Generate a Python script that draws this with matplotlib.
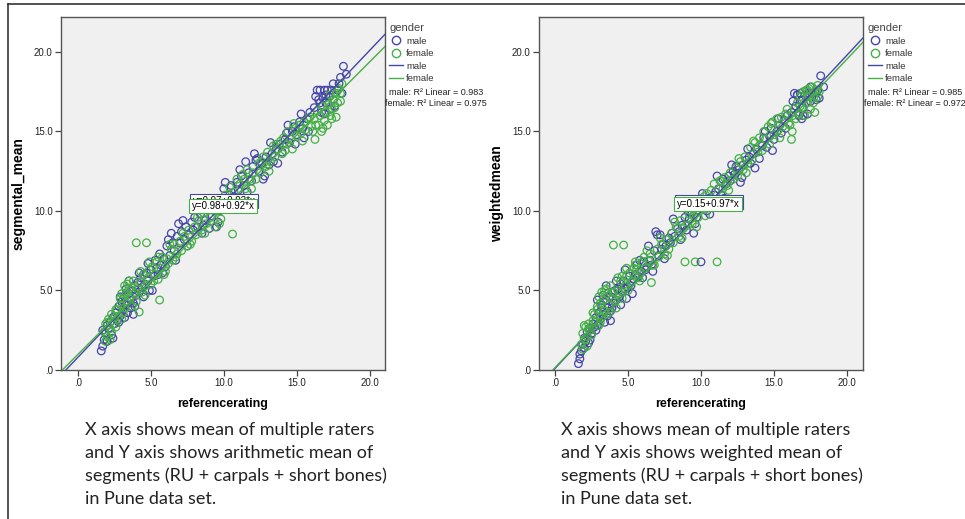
import matplotlib
matplotlib.use("Agg")
import matplotlib.pyplot as plt
from matplotlib.lines import Line2D
import numpy as np

# reference rating (x) and the two segment means (y)
male_ref = [1.6, 1.7, 1.8, 1.9, 2.0, 2.1, 2.2, 2.3, 2.4, 1.7, 2.0, 2.5,
            2.6, 2.7, 2.8, 2.9, 3.0, 3.1, 3.2, 3.3, 3.4, 3.5, 3.6, 3.7, 3.8, 3.9, 4.0, 3.3, 3.6, 2.8, 3.9,
            4.1, 4.2, 4.3, 4.4, 4.5, 4.6, 4.7, 4.8, 4.9, 5.0, 5.2, 5.4, 5.5, 5.7, 5.9, 5.6, 6.0,
            6.1, 6.2, 6.3, 6.5, 6.6, 6.8, 6.9, 7.0, 7.1, 7.3, 7.4, 7.6, 7.8, 7.9, 8.0,
            8.2, 8.4, 8.5, 8.7, 8.9, 9.0, 9.2, 9.4, 9.6, 9.7, 9.9, 10.0,
            10.2, 10.4, 10.5, 10.7, 10.9, 11.0, 11.2, 11.4, 11.5, 11.7, 11.9, 12.0,
            12.2, 12.3, 12.4, 12.6, 12.8, 12.9, 13.1, 13.3, 13.4, 13.6, 13.8, 14.0,
            14.2, 14.3, 14.5, 14.7, 14.8, 15.0, 15.2, 15.4, 15.5, 15.7, 15.9,
            16.2, 16.4, 16.5, 16.6, 16.7, 16.8, 16.9, 17.0, 17.1, 17.2, 17.3, 17.4, 17.5, 17.6,
            17.8, 17.9, 18.0, 18.2, 18.4, 16.6, 17.0,
            2.4, 2.9, 3.2, 3.5, 3.8, 4.2, 4.5, 4.8, 5.1, 5.3, 5.8, 6.4, 6.7, 7.2, 7.5, 8.1, 8.6,
            9.1, 9.5, 10.1, 10.6, 11.1, 11.6, 12.1, 12.7, 13.2, 13.7, 14.4, 14.9, 15.3, 15.8,
            16.3, 16.9, 17.5, 18.1]
male_seg = [1.2, 1.5, 1.9, 2.3, 2.8, 2.6, 3.0, 2.2, 3.3, 2.5, 1.8, 2.9,
            3.6, 3.1, 4.0, 3.4, 4.3, 3.8, 4.6, 4.1, 3.6, 4.8, 4.4, 5.0, 4.2, 5.3, 4.7, 5.1, 3.9, 3.0, 4.0,
            5.5, 4.9, 5.8, 5.2, 6.0, 5.4, 6.1, 5.6, 5.0, 6.3, 5.9, 6.4, 6.0, 6.6, 7.0, 7.3, 6.5,
            7.8, 8.2, 7.2, 8.0, 7.5, 8.4, 9.2, 8.0, 8.7, 8.2, 9.0, 8.5, 9.3, 8.8, 9.6,
            9.0, 9.8, 8.6, 9.4, 10.1, 8.9, 9.7, 10.4, 9.3, 10.0, 10.8, 11.4,
            10.5, 11.0, 11.6, 10.9, 11.8, 11.3, 12.2, 11.6, 13.1, 12.4, 11.9, 12.8,
            13.2, 13.3, 12.5, 13.0, 12.2, 13.4, 12.9, 13.6, 13.1, 13.9, 14.2, 13.7,
            14.5, 14.9, 14.3, 15.0, 15.3, 14.8, 15.6, 15.2, 14.6, 15.8, 16.2,
            16.5, 17.6, 17.0, 17.6, 16.2, 17.1, 17.6, 16.8, 17.6, 17.2, 16.4, 17.6, 17.0, 16.6,
            17.6, 18.0, 18.4, 19.1, 18.6, 16.8, 17.3,
            2.0, 4.6, 3.3, 5.6, 3.5, 6.1, 4.6, 6.7, 5.0, 6.9, 6.1, 8.6, 6.9, 9.4, 7.8, 10.2, 9.1,
            10.6, 9.0, 11.8, 10.4, 12.6, 11.2, 13.6, 12.0, 14.3, 13.0, 15.4, 14.2, 16.1, 15.0,
            17.2, 16.1, 18.0, 17.4]
male_wt = [0.4, 0.7, 1.2, 1.6, 2.0, 1.8, 2.4, 1.7, 2.6, 1.0, 1.4, 2.3,
           2.9, 2.7, 3.3, 2.8, 3.6, 3.2, 4.1, 3.5, 3.0, 4.4, 3.9, 4.6, 3.7, 4.9, 4.2, 4.7, 3.4, 2.5, 3.9,
           5.0, 4.4, 5.1, 4.6, 5.4, 4.9, 5.6, 5.1, 4.5, 5.2, 5.3, 5.7, 6.0, 5.9, 6.2, 6.6, 5.8,
           6.8, 6.3, 6.5, 6.9, 6.6, 7.5, 8.7, 8.5, 7.2, 7.6, 7.9, 7.8, 8.3, 8.0, 8.6,
           8.4, 8.9, 8.7, 9.1, 9.6, 8.8, 9.5, 9.9, 9.2, 9.6, 10.2, 6.8,
           10.4, 10.0, 10.8, 10.5, 11.0, 11.2, 11.4, 11.0, 12.0, 11.7, 12.2, 11.9,
           12.5, 12.3, 12.8, 12.6, 12.1, 12.9, 13.2, 13.4, 13.0, 13.6, 13.9, 13.3,
           14.1, 14.6, 14.0, 14.7, 15.2, 14.5, 15.0, 15.4, 14.9, 15.7, 16.0,
           16.2, 17.4, 16.6, 17.3, 16.0, 17.4, 17.0, 16.5, 17.3, 16.8, 16.1, 17.4, 16.9, 17.4,
           17.5, 17.0, 17.6, 18.5, 17.8, 17.3, 16.0,
           1.9, 4.4, 3.9, 5.3, 3.1, 5.6, 4.1, 6.3, 5.9, 4.8, 6.9, 7.8, 6.2, 8.5, 7.0, 9.5, 8.2,
           10.0, 8.6, 11.1, 9.8, 12.2, 10.8, 12.9, 11.8, 13.9, 12.7, 15.0, 13.8, 15.8, 15.2,
           16.9, 15.8, 17.8, 17.1]

female_ref = [1.8, 1.9, 2.0, 2.1, 2.2, 2.3, 2.4, 2.5, 2.2, 2.6, 2.0,
              2.7, 2.8, 2.9, 3.0, 3.1, 3.2, 3.3, 3.4, 3.5, 3.6, 3.7, 3.8, 3.9, 4.0, 3.2, 3.5, 2.9, 3.0,
              4.1, 4.2, 4.3, 4.4, 4.5, 4.6, 4.7, 4.8, 4.9, 5.0, 5.1, 5.3, 5.4, 5.5, 5.6, 5.7, 5.8, 6.0,
              6.1, 6.2, 6.4, 6.5, 6.6, 6.8, 7.0, 7.1, 7.3, 7.5, 7.6, 7.8, 8.0,
              8.1, 8.3, 8.5, 8.6, 8.8, 8.9, 9.1, 9.3, 9.4, 9.5, 9.6, 9.8, 10.0,
              10.1, 10.3, 10.4, 10.6, 10.7, 10.9, 11.0, 11.1, 11.3, 11.5, 11.6, 11.8, 12.0,
              12.2, 12.4, 12.5, 12.7, 12.9, 13.0, 13.2, 13.4, 13.5, 13.7, 13.9, 14.0,
              14.1, 14.3, 14.4, 14.6, 14.7, 14.9, 15.0, 15.2, 15.3, 15.5, 15.6, 15.8, 16.0,
              16.1, 16.2, 16.25, 16.4, 16.5, 16.6, 16.7, 16.8, 16.9, 17.0, 17.1, 17.2, 17.3,
              17.4, 17.5, 17.6, 17.7, 17.8, 17.9, 18.0, 18.1, 17.3,
              1.9, 2.3, 2.6, 3.1, 3.4, 3.7, 4.0, 4.3, 4.6, 4.9, 5.2, 5.5, 5.9, 6.3, 6.7, 7.2, 7.7,
              8.2, 8.7, 9.2, 9.7, 10.2, 10.8, 11.4, 11.9, 12.6, 13.1, 13.6, 14.2, 14.8, 15.4,
              15.9, 16.3, 16.8, 17.4, 17.7, 18.0]
female_seg = [2.4, 2.9, 2.1, 3.2, 2.6, 3.5, 2.9, 3.3, 1.9, 2.7, 3.0,
              3.8, 3.4, 4.1, 3.2, 4.5, 3.9, 4.8, 4.3, 5.1, 4.6, 4.0, 5.6, 4.8, 8.0, 5.3, 5.6, 4.5, 4.8,
              5.1, 3.65, 5.5, 4.9, 6.0, 5.3, 8.0, 5.8, 6.3, 5.4, 6.5, 6.0, 6.8, 5.7, 4.4, 6.4, 7.1, 6.2,
              7.0, 6.7, 7.6, 6.9, 7.9, 7.3, 8.1, 7.5, 8.4, 7.8, 8.8, 8.1, 9.0,
              8.5, 9.4, 8.8, 9.9, 9.2, 10.4, 9.6, 10.3, 9.0, 10.0, 10.7, 9.5, 10.3,
              11.0, 10.2, 11.5, 8.55, 11.2, 12.0, 10.8, 11.7, 12.3, 11.4, 12.6, 12.0, 12.4,
              12.0, 13.0, 12.4, 13.4, 12.8, 13.7, 13.1, 14.1, 13.4, 13.9, 14.4, 13.6,
              14.6, 14.2, 15.0, 14.5, 13.9, 15.2, 14.7, 15.4, 14.9, 15.6, 15.1, 15.8, 15.3,
              15.0, 15.8, 14.5, 16.3, 15.4, 16.0, 15.0, 16.6, 15.7, 16.2, 15.4, 16.7, 16.0,
              15.8, 17.0, 16.5, 17.4, 16.8, 17.7, 17.4, 18.0, 17.3,
              1.8, 2.4, 3.8, 3.6, 5.4, 5.2, 4.3, 6.2, 4.7, 6.8, 5.6, 7.1, 6.0, 7.9, 7.1, 8.6, 7.9,
              9.6, 8.6, 10.1, 9.2, 10.8, 10.4, 12.0, 11.4, 13.1, 12.5, 14.2, 13.8, 15.5, 14.4,
              15.9, 15.4, 15.2, 16.4, 15.9, 16.9]
female_wt = [1.6, 2.3, 1.9, 2.7, 2.1, 2.9, 2.5, 2.2, 1.5, 3.1, 2.8,
             3.5, 3.0, 3.8, 2.8, 4.2, 3.3, 4.4, 3.7, 3.5, 4.8, 4.1, 5.3, 4.5, 7.86, 4.9, 5.1, 4.0, 4.6,
             4.3, 3.9, 5.0, 4.8, 5.6, 5.9, 7.86, 5.3, 5.9, 5.0, 6.1, 5.6, 6.4, 6.6, 6.3, 5.8, 5.6, 6.8,
             7.1, 6.4, 6.9, 7.3, 5.5, 6.6, 7.6, 7.1, 7.9, 7.3, 8.2, 7.6, 8.6,
             8.0, 9.0, 8.4, 9.4, 8.9, 6.8, 9.1, 10.0, 9.2, 9.7, 6.8, 9.6, 10.3,
             10.5, 9.7, 11.1, 10.4, 11.3, 11.7, 10.6, 6.8, 11.9, 11.4, 12.1, 11.6, 12.4,
             12.0, 12.7, 12.2, 13.1, 12.6, 13.4, 13.0, 14.0, 13.2, 14.3, 13.7, 14.6,
             14.2, 15.0, 14.5, 15.3, 14.2, 15.6, 14.8, 15.8, 15.1, 15.9, 15.3, 16.1, 15.5,
             15.4, 14.5, 15.0, 16.4, 15.8, 16.8, 16.1, 17.2, 16.5, 17.5, 16.0, 17.6, 16.8,
             17.2, 16.4, 17.8, 17.1, 16.2, 17.6, 17.9, 17.5, 17.6,
             1.3, 2.6, 3.6, 3.0, 5.0, 3.6, 4.9, 5.8, 4.5, 6.4, 5.5, 6.8, 6.1, 7.5, 6.6, 8.3, 7.2,
             9.3, 8.3, 9.8, 9.0, 10.9, 10.2, 11.9, 11.3, 13.3, 12.4, 14.4, 13.8, 15.5, 14.6,
             16.4, 16.0, 16.6, 17.7, 16.8, 17.2]

# fit lines (intercept, slope) and their labels
fits_seg = {"male": (0.80, 0.965), "female": (0.98, 0.92)}
fits_wt = {"male": (0.10, 0.985), "female": (0.15, 0.97)}
labels_seg = {"male": "y=0.97+0.93*x", "female": "y=0.98+0.92*x"}
labels_wt = {"male": "y=0.15+0.97*x", "female": "y=0.15+0.97*x"}
r2_seg = {"male": "0.983", "female": "0.975"}
r2_wt = {"male": "0.985", "female": "0.972"}

ticks = [0, 5, 10, 15, 20]
tick_labels = [".0", "5.0", "10.0", "15.0", "20.0"]

captions = [
    "X axis shows mean of multiple raters\nand Y axis shows arithmetic mean of\n"
    "segments (RU + carpals + short bones)\nin Pune data set.",
    "X axis shows mean of multiple raters\nand Y axis shows weighted mean of\n"
    "segments (RU + carpals + short bones)\nin Pune data set.",
]

BLUE = "#4545a8"
GREEN = "#45b045"
W, H = 965, 519

plt.rcParams["font.family"] = ["Liberation Sans", "DejaVu Sans"]
fig = plt.figure(figsize=(W / 100, H / 100), dpi=100)
fig.patch.set_facecolor("white")


def px(x, y):
    return x / W, 1 - y / H


def panel(left_px, xlim, yname, yseries_m, yseries_f, fits, labels, r2, box_px, leg_px, r2_px, boff):
    ax = fig.add_axes([left_px / W, 1 - 370 / H, 324 / W, 353 / H])
    ax.set_facecolor("#f0f0f0")
    ax.scatter(male_ref, yseries_m, s=30, facecolors="none", edgecolors=BLUE, linewidths=0.9, zorder=2)
    ax.scatter(female_ref, yseries_f, s=30, facecolors="none", edgecolors=GREEN, linewidths=0.9, zorder=2)
    xs = np.array(xlim)
    for g, c in (("male", BLUE), ("female", GREEN)):
        a, b = fits[g]
        ax.plot(xs, a + b * xs, color=c, lw=1.0, zorder=3)
    ax.set_xlim(*xlim)
    ax.set_ylim(0, 22.2)
    ax.set_xticks(ticks)
    ax.set_xticklabels(tick_labels)
    ax.set_yticks(ticks)
    ax.set_yticklabels(tick_labels)
    ax.tick_params(direction="out", length=4, width=0.9, colors="#444444", labelsize=7, labelcolor="#222222", pad=2)
    for sp in ax.spines.values():
        sp.set_color("#555555")
        sp.set_linewidth(1.0)
    ax.set_xlabel("referencerating", fontsize=9, fontweight="bold", labelpad=7)
    ax.set_ylabel(yname, fontsize=10, fontweight="bold", labelpad=6)
    # fit labels, male box sits behind the female one
    bx, by = box_px
    fig.text(bx / W + 0.001, 1 - (by - boff) / H, labels["male"], fontsize=7, ha="center", va="center",
             bbox=dict(boxstyle="square,pad=0.25", fc="white", ec=BLUE, lw=0.8), zorder=5)
    fig.text(bx / W, 1 - by / H, labels["female"], fontsize=7, ha="center", va="center",
             bbox=dict(boxstyle="square,pad=0.25", fc="white", ec=GREEN, lw=0.8), zorder=6)
    handles = [
        Line2D([], [], ls="none", marker="o", mfc="none", mec=BLUE, ms=6),
        Line2D([], [], ls="none", marker="o", mfc="none", mec=GREEN, ms=6),
        Line2D([], [], color=BLUE, lw=1),
        Line2D([], [], color=GREEN, lw=1),
    ]
    leg = ax.legend(handles, ["male", "female", "male", "female"], title="gender",
                    loc="upper left", bbox_to_anchor=px(*leg_px), bbox_transform=fig.transFigure,
                    frameon=False, fontsize=6.8, title_fontsize=8, handlelength=1.5,
                    handletextpad=0.3, labelspacing=0.38, borderpad=0, borderaxespad=0,
                    alignment="left")
    for t in leg.get_texts():
        t.set_color("#333333")
    leg.get_title().set_color("#444444")
    rx, ry = r2_px
    fig.text(rx / W, 1 - ry / H, "male: R² Linear = " + r2["male"], fontsize=6.5, ha="center", va="center", color="#222222")
    fig.text(rx / W, 1 - (ry + 11) / H, "female: R² Linear = " + r2["female"], fontsize=6.5, ha="center", va="center", color="#222222")
    return ax


panel(61, (-1.16, 21.05), "segmental_mean", male_seg, female_seg, fits_seg, labels_seg, r2_seg,
      (223, 206), (389, 23), (436, 92), 5)
panel(539, (-1.1, 21.1), "weightedmean", male_wt, female_wt, fits_wt, labels_wt, r2_wt,
      (708, 204), (868, 23), (915, 92), 2)

for cx, cap in ((85, captions[0]), (561, captions[1])):
    fig.text(cx / W, 1 - 422 / H, cap, fontsize=13, family="Lato", va="top", ha="left",
             linespacing=1.52, color="#222222")

# outer frame (top and left edges)
fig.add_artist(Line2D([8 / W, 1], [1 - 4 / H, 1 - 4 / H], color="#333333", lw=1.2, transform=fig.transFigure))
fig.add_artist(Line2D([8 / W, 8 / W], [0, 1 - 4 / H], color="#333333", lw=1.2, transform=fig.transFigure))

fig.savefig("out.png", dpi=100)
